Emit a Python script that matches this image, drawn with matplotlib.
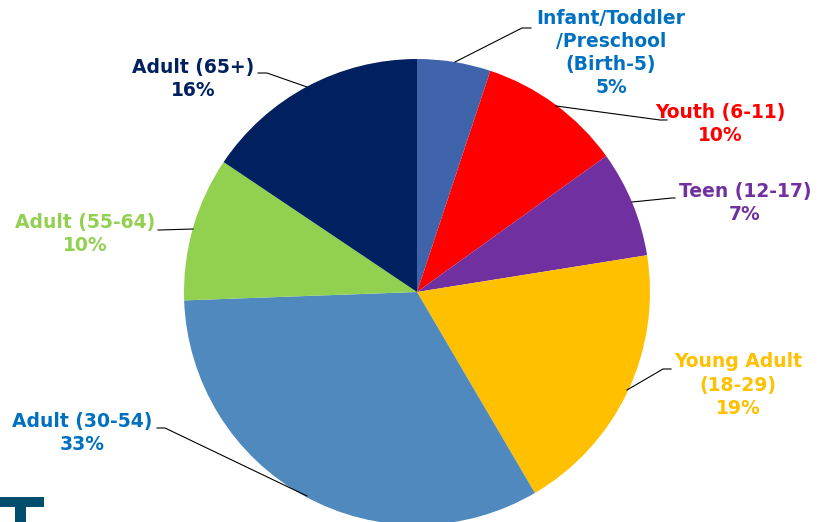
import matplotlib
matplotlib.use("Agg")
import matplotlib.pyplot as plt
from matplotlib.patches import Rectangle

categories = ["Infant/Toddler\n/Preschool\n(Birth-5)", "Youth (6-11)", "Teen (12-17)",
              "Young Adult\n(18-29)", "Adult (30-54)", "Adult (55-64)", "Adult (65+)"]
values = [5.1, 10.0, 7.4, 19.1, 32.9, 10.0, 15.6]
pct_labels = ["5%", "10%", "7%", "19%", "33%", "10%", "16%"]
colors = ["#3F64AC", "#FF0000", "#7030A0", "#FFC000", "#4F89BD", "#92D050", "#002060"]
label_colors = ["#0070C0", "#FF0000", "#7030A0", "#FFC000", "#0070C0", "#92D050", "#002060"]

W, H = 829, 522
fig = plt.figure(figsize=(W / 100, H / 100), dpi=100)
ax = fig.add_axes([0, 0, 1, 1])

cx, cy, r = 417, H - 292, 233
ax.pie(values, colors=colors, startangle=90, counterclock=False,
       center=(cx, cy), radius=r, wedgeprops=dict(linewidth=0))

# label placements (pixel coords from top-left) and leader lines
label_pos = [(611, 53), (720, 124), (745, 203), (738, 385), (82, 433), (85, 234), (193, 79)]
leaders = [
    [(455, 62), (522, 28), (531, 28)],
    [(556, 106), (660, 120), (667, 120)],
    [(632, 202), (672, 198), (675, 198)],
    [(627, 390), (663, 369), (671, 369)],
    [(307, 496), (165, 428), (157, 428)],
    [(193, 229), (160, 230), (158, 230)],
    [(307, 87), (267, 73), (258, 73)],
]

for cat, pct, col, (lx, ly), pts in zip(categories, pct_labels, label_colors, label_pos, leaders):
    ax.text(lx, H - ly, cat + "\n" + pct, ha="center", va="center", color=col,
            fontsize=13.5, fontweight="bold", family="DejaVu Sans", linespacing=1.27)
    xs = [p[0] for p in pts]
    ys = [H - p[1] for p in pts]
    ax.plot(xs, ys, color="black", linewidth=0.8)

# decorative logo fragment in bottom-left corner
ax.add_patch(Rectangle((0, H - 507), 44, 10, color="#004E6E", linewidth=0))
ax.add_patch(Rectangle((15, 0), 11, H - 507, color="#004E6E", linewidth=0))

ax.set_xlim(0, W)
ax.set_ylim(0, H)
ax.set_aspect("auto")
ax.axis("off")
fig.savefig("out.png", dpi=100)
